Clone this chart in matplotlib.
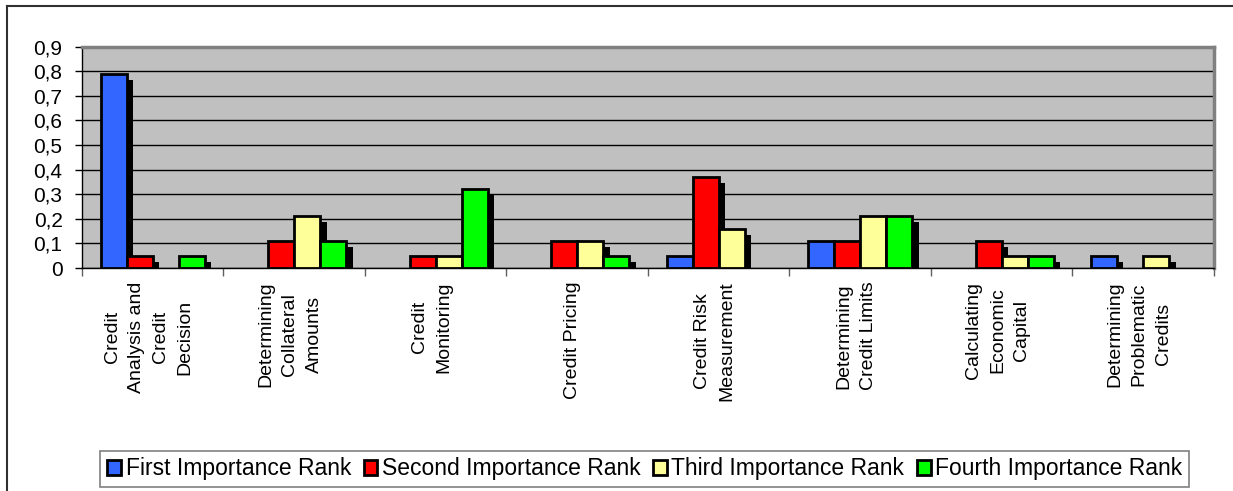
"""Grouped bar chart: importance ranks of credit-risk model uses."""

import matplotlib

matplotlib.use("Agg")
import matplotlib.pyplot as plt
import numpy as np
from matplotlib.lines import Line2D
from matplotlib.ticker import FixedLocator, FuncFormatter

plt.rcParams["font.family"] = ["Liberation Sans", "DejaVu Sans"]

categories = [
    "Credit\nAnalysis and\nCredit\nDecision",
    "Determining\nCollateral\nAmounts",
    "Credit\nMonitoring",
    "Credit Pricing",
    "Credit Risk\nMeasurement",
    "Determining\nCredit Limits",
    "Calculating\nEconomic\nCapital",
    "Determining\nProblematic\nCredits",
]
series_names = [
    "First Importance Rank",
    "Second Importance Rank",
    "Third Importance Rank",
    "Fourth Importance Rank",
]
first_rank = [0.79, 0.0, 0.0, 0.0, 0.05, 0.11, 0.0, 0.05]
second_rank = [0.05, 0.11, 0.05, 0.11, 0.37, 0.11, 0.11, 0.0]
third_rank = [0.0, 0.21, 0.05, 0.11, 0.16, 0.21, 0.05, 0.05]
fourth_rank = [0.05, 0.11, 0.32, 0.05, 0.0, 0.21, 0.05, 0.0]
colors = ["#3366FF", "#FF0000", "#FFFF99", "#00FF00"]


def main() -> None:
    series = [first_rank, second_rank, third_rank, fourth_rank]
    fig = plt.figure(figsize=(12.33, 4.91), dpi=100)
    ax = fig.add_axes([0.0665, 0.454, 0.918, 0.451])
    ax.set_facecolor("#C0C0C0")

    x = np.arange(len(categories))
    width = 0.184
    dx, dy = 0.045, 0.024
    for i, (vals, color) in enumerate(zip(series, colors)):
        vals = np.asarray(vals)
        pos = x + (i - 1.5) * width
        shown = vals > 0
        # drop shadow
        ax.bar(
            pos[shown] + dx, np.maximum(vals[shown] - dy, 0), width=width,
            color="black", linewidth=0, zorder=2,
        )
        ax.bar(
            pos[shown], vals[shown], width=width, color=color,
            edgecolor="black", linewidth=2, zorder=3,
        )

    ax.set_xlim(-0.5, len(categories) - 0.5)
    ax.set_ylim(0, 0.9)
    ax.set_yticks(np.arange(0, 0.91, 0.1))
    ax.yaxis.set_major_formatter(
        FuncFormatter(lambda v, _: "0" if abs(v) < 1e-9 else f"{v:.1f}".replace(".", ","))
    )
    ax.grid(axis="y", color="black", linewidth=1, zorder=1)
    ax.set_axisbelow(True)
    ax.tick_params(axis="y", labelsize=15, length=5, width=1, pad=9)

    ax.xaxis.set_major_locator(FixedLocator(np.arange(-0.5, len(categories), 1.0)))
    ax.xaxis.set_major_formatter(FuncFormatter(lambda v, _: ""))
    ax.tick_params(axis="x", length=6, width=1, color="#606060")
    for xi, label in zip(x, categories):
        ax.text(
            xi - 0.03, -0.055, label, rotation=90, ha="center", va="top",
            multialignment="center", fontsize=14, linespacing=1.55,
            transform=ax.transData, clip_on=False,
        )

    for side in ("top", "right"):
        ax.spines[side].set_color("#808080")
        ax.spines[side].set_linewidth(2.5)
    for side in ("left", "bottom"):
        ax.spines[side].set_color("black")
        ax.spines[side].set_linewidth(1)

    handles = [
        plt.Rectangle((0, 0), 1, 1, facecolor=c, edgecolor="black", linewidth=2)
        for c in colors
    ]
    leg = fig.legend(
        handles, series_names, loc="center", bbox_to_anchor=(0.523, 0.045),
        ncol=4, fontsize=16.5, frameon=True, fancybox=False, edgecolor="#606060",
        handlelength=0.6, handleheight=0.6, handletextpad=0.2, columnspacing=0.55,
        borderpad=0.3,
    )
    leg.get_frame().set_linewidth(1.2)

    # outer chart border (left and top edges visible)
    fig.add_artist(Line2D([7 / 1233, 7 / 1233], [0, 1 - 6 / 491],
                          transform=fig.transFigure, color="#303030", linewidth=1.5))
    fig.add_artist(Line2D([7 / 1233, 1], [1 - 6 / 491, 1 - 6 / 491],
                          transform=fig.transFigure, color="#303030", linewidth=1.5))

    fig.savefig("out.png", dpi=100)
    plt.close(fig)


if __name__ == "__main__":
    main()
